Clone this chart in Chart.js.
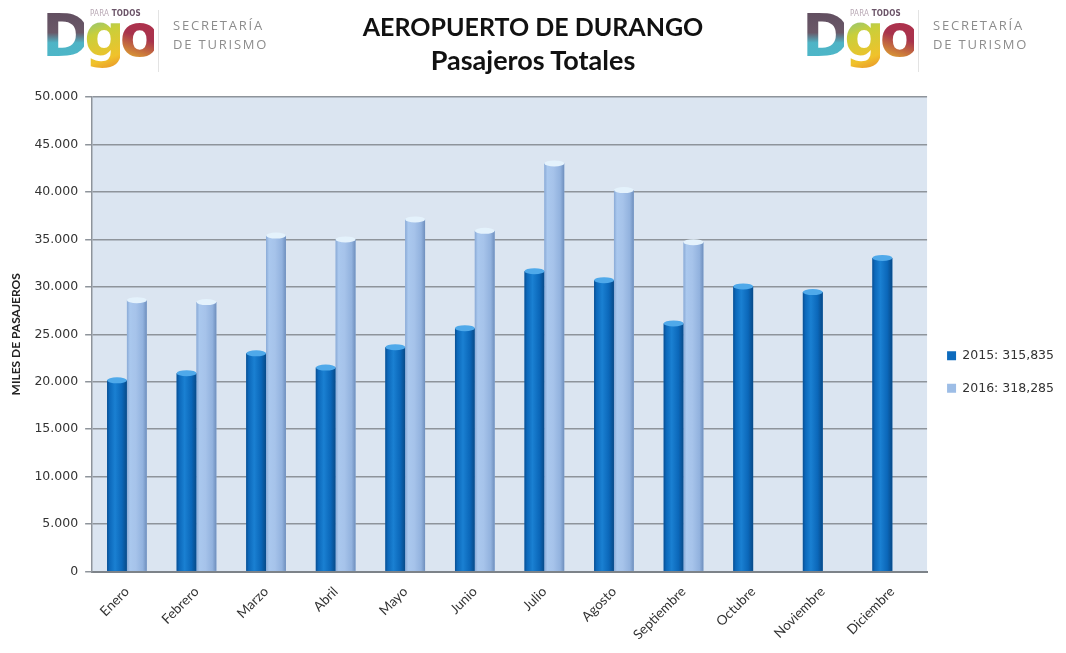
<!DOCTYPE html>
<html lang="es">
<head>
<meta charset="utf-8">
<title>Aeropuerto de Durango - Pasajeros Totales</title>
<script src="https://cdn.jsdelivr.net/npm/chart.js@4.4.1/dist/chart.umd.min.js"></script>
<style>
  html, body { margin: 0; padding: 0; background: #fff; }
  .page { position: relative; width: 1066px; height: 653px; overflow: hidden; }
  #paxChart { position: absolute; left: 0; top: 0; }

  .title { position: absolute; left: 0; width: 1066px; text-align: center; line-height: 1.2;
           font-family: Lato, "Open Sans", sans-serif; font-weight: bold; color: #111; }
  .title.main { top: 11px; font-size: 25px; }
  .title.sub { top: 44px; font-size: 27px; }

  .logo { position: absolute; top: 0; width: 260px; height: 80px; }
  .logo .para { position: absolute; left: 45px; top: 9px; font-family: "DejaVu Sans Condensed", sans-serif;
                font-size: 8px; color: #b9a9b5; letter-spacing: 0.2px; }
  .logo .para b { color: #6b5468; }
  .logo .dgo { position: absolute; left: -3px; top: 7px; font-family: "DejaVu Sans", sans-serif;
               font-weight: bold; font-size: 58px; letter-spacing: -6px; line-height: 1; }
  .logo .dgo span { -webkit-background-clip: text; background-clip: text; color: transparent; }
  .logo .d { background: linear-gradient(180deg, #5d4a5c 0%, #6a5868 45%, #4fb4c6 60%, #4ab8c9 100%); }
  .logo .g { background: linear-gradient(160deg, #4ab8c9 0%, #c9cf3a 45%, #f0c22b 80%, #e88a2a 100%); }
  .logo .o { background: linear-gradient(200deg, #b52e4a 0%, #a8334d 50%, #e6b12e 85%, #c9cf3a 100%); }
  .logo .sep { position: absolute; left: 113px; top: 10px; width: 1px; height: 62px; background: #e3e3e3; }
  .logo .sec { position: absolute; left: 128px; top: 16px; font-family: "Open Sans", sans-serif;
               font-size: 13px; line-height: 19px; color: #8d8d8d; letter-spacing: 1.8px; }
</style>
</head>
<body>
<div class="page">
  <canvas id="paxChart" width="1066" height="653"></canvas>

  <div class="logo" style="left:45px">
    <span class="dgo"><span class="d">D</span><span class="g">g</span><span class="o">o</span></span>
    <span class="para">PARA <b>TODOS</b></span>
    <span class="sep"></span>
    <span class="sec">SECRETARÍA<br>DE TURISMO</span>
  </div>
  <div class="logo" style="left:805px">
    <span class="dgo"><span class="d">D</span><span class="g">g</span><span class="o">o</span></span>
    <span class="para">PARA <b>TODOS</b></span>
    <span class="sep"></span>
    <span class="sec">SECRETARÍA<br>DE TURISMO</span>
  </div>

  <div class="title main">AEROPUERTO DE DURANGO</div>
  <div class="title sub">Pasajeros Totales</div>
</div>

<script>
const months = ["Enero", "Febrero", "Marzo", "Abril", "Mayo", "Junio",
  "Julio", "Agosto", "Septiembre", "Octubre", "Noviembre", "Diciembre"];

// pasajeros por mes
const pax2015 = [20150, 20900, 23000, 21500, 23650, 25650, 31650, 30700, 26150, 30050, 29450, 33050];
const pax2016 = [28600, 28400, 35400, 35000, 37100, 35900, 43000, 40200, 34700, null, null, null];

const years = ["2015", "2016"];
const yearTotals = ["315,835", "318,285"];

const yMax = 50000;
const yStep = 5000;

// colores del cilindro para cada serie
const shades = [
  {
    flat: "#0d6bbd",
    body: [[0, "#0a4f92"], [0.12, "#0c68ba"], [0.4, "#1a80d2"], [0.75, "#0b67b9"], [1, "#084a88"]],
    cap: "#4fa9ea"
  },
  {
    flat: "#9dbde6",
    body: [[0, "#8aaad6"], [0.15, "#aac8ee"], [0.45, "#a6c3ea"], [0.8, "#92b2de"], [1, "#6f8fbd"]],
    cap: "#e4f2fc"
  }
];

const fmtMiles = (v) => String(v).replace(/\B(?=(\d{3})+(?!\d))/g, ".");

// fondo gris azulado del area de trazado
const plotBg = {
  id: "plotBg",
  beforeDraw(chart) {
    const { ctx, chartArea: a } = chart;
    ctx.save();
    ctx.fillStyle = "#dbe5f1";
    ctx.fillRect(a.left, a.top, a.right - a.left, a.bottom - a.top);
    ctx.restore();
  }
};

// sombreado tipo cilindro encima de cada barra
const cylinder = {
  id: "cylinder",
  afterDatasetsDraw(chart) {
    const ctx = chart.ctx;
    chart.data.datasets.forEach((ds, di) => {
      const meta = chart.getDatasetMeta(di);
      const shade = shades[di];
      meta.data.forEach((bar, i) => {
        if (ds.data[i] == null) return;
        const { x, y, base, width } = bar.getProps(["x", "y", "base", "width"], true);
        const left = x - width / 2;
        const g = ctx.createLinearGradient(left, 0, left + width, 0);
        shade.body.forEach(([s, c]) => g.addColorStop(s, c));
        ctx.save();
        ctx.fillStyle = g;
        ctx.fillRect(left, y, width, base - y);
        ctx.beginPath();
        ctx.ellipse(x, y, width / 2, 3, 0, 0, Math.PI * 2);
        ctx.fillStyle = shade.cap;
        ctx.fill();
        ctx.restore();
      });
    });
  }
};

const ctx = document.getElementById("paxChart").getContext("2d");
new Chart(ctx, {
  type: "bar",
  data: {
    labels: months,
    datasets: [pax2015, pax2016].map((data, i) => ({
      label: years[i] + ": " + yearTotals[i],
      data,
      backgroundColor: shades[i].flat,
      borderWidth: 0,
      categoryPercentage: 0.57,
      barPercentage: 1.0
    }))
  },
  options: {
    responsive: false,
    animation: false,
    layout: { padding: { top: 97, left: 9, right: 2, bottom: 6 } },
    plugins: {
      title: { display: false },
      legend: {
        position: "right",
        labels: {
          boxWidth: 9,
          boxHeight: 9,
          padding: 20,
          color: "#333",
          font: { family: "DejaVu Sans", size: 12.5 }
        }
      },
      tooltip: {
        callbacks: {
          label: (item) => years[item.datasetIndex] + ": " + fmtMiles(item.raw)
        }
      }
    },
    scales: {
      x: {
        grid: { display: false },
        border: { color: "#7d8389", width: 2 },
        ticks: {
          color: "#333",
          font: { family: "Lato", size: 13.5 },
          minRotation: 45,
          maxRotation: 45,
          padding: 4
        }
      },
      y: {
        min: 0,
        max: yMax,
        ticks: {
          stepSize: yStep,
          color: "#333",
          padding: 7,
          font: { family: "DejaVu Sans", size: 12.5 },
          callback: (v) => fmtMiles(v)
        },
        grid: { color: "#8e949b", lineWidth: 1.5, tickLength: 7, tickColor: "#8e949b" },
        border: { color: "#8e949b", width: 1.5 },
        title: {
          display: true,
          text: "MILES DE PASAJEROS",
          color: "#222",
          font: { family: "Lato", size: 12, weight: "bold" },
          padding: { top: 0, bottom: 4 }
        }
      }
    }
  },
  plugins: [plotBg, cylinder]
});
</script>
</body>
</html>
